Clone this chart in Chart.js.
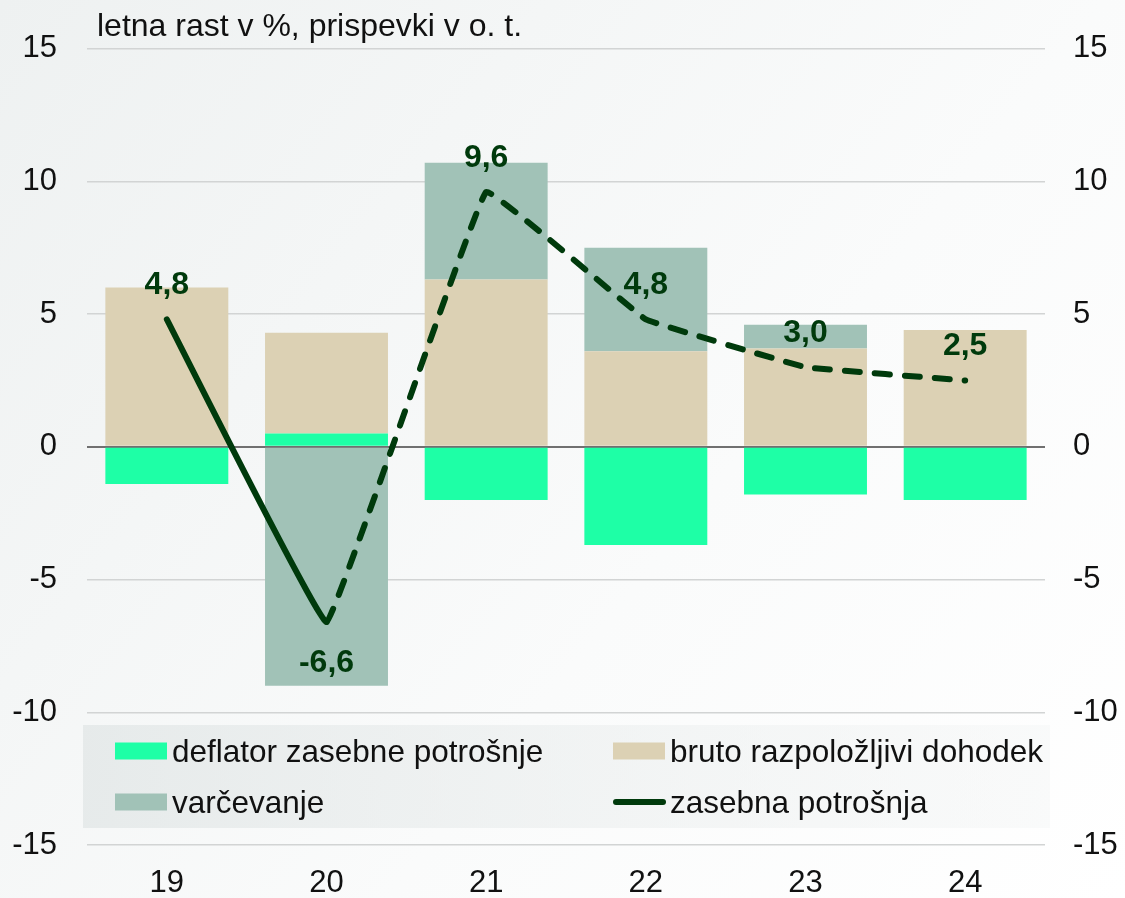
<!DOCTYPE html>
<html>
<head>
<meta charset="utf-8">
<script src="https://cdn.jsdelivr.net/npm/chart.js@4.4.1/dist/chart.umd.min.js"></script>
<style>
  html, body { margin: 0; padding: 0; background: #fff; }
  #wrap { width: 1125px; height: 898px; }
</style>
</head>
<body>
<div id="wrap"><canvas id="chart"></canvas></div>
<script>
var years = ["19", "20", "21", "22", "23", "24"];
var deflator = [-1.4, 0.5, -2.0, -3.7, -1.8, -2.0];
var dohodek = [6.0, 3.8, 6.3, 3.6, 3.7, 4.4];
var varcevanje = [null, -9.0, 4.4, 3.9, 0.9, null];
var potrosnja = [4.8, -6.6, 9.6, 4.8, 3.0, 2.5];
var yTicks = [-15, -10, -5, 0, 5, 10, 15];
var titleText = "letna rast v %, prispevki v o. t.";

var dark = "#003a0c";
var font = "'Liberation Sans', Arial, sans-serif";

// soft grey-to-white background
var backgroundPlugin = {
  id: "bg",
  beforeDraw: function (chart) {
    var ctx = chart.ctx;
    var g = ctx.createLinearGradient(0, 0, chart.width, chart.height);
    g.addColorStop(0, "#eef1f1");
    g.addColorStop(0.6, "#fafbfb");
    g.addColorStop(1, "#ffffff");
    ctx.save();
    ctx.fillStyle = g;
    ctx.fillRect(0, 0, chart.width, chart.height);
    ctx.restore();
  }
};

var titlePlugin = {
  id: "unitTitle",
  afterDraw: function (chart) {
    var ctx = chart.ctx;
    ctx.save();
    ctx.font = "32px " + font;
    ctx.fillStyle = "#111";
    ctx.textBaseline = "alphabetic";
    ctx.fillText(titleText, 97, 36);
    ctx.restore();
  }
};

// value labels on the line
var labelPlugin = {
  id: "lineLabels",
  afterDatasetsDraw: function (chart) {
    var ctx = chart.ctx;
    var meta = chart.getDatasetMeta(3);
    ctx.save();
    ctx.font = "bold 32px " + font;
    ctx.fillStyle = dark;
    ctx.textAlign = "center";
    ctx.textBaseline = "middle";
    meta.data.forEach(function (pt, i) {
      var v = potrosnja[i];
      var y = v < 0 ? pt.y + 41 : pt.y - 34;
      ctx.fillText(v.toFixed(1).replace(".", ","), pt.x, y);
    });
    ctx.restore();
  }
};

// legend drawn in a grey box inside the plot
var legendPlugin = {
  id: "boxLegend",
  afterDraw: function (chart) {
    var ctx = chart.ctx;
    var ds = chart.data.datasets;
    ctx.save();
    var g = ctx.createLinearGradient(83, 0, 1050, 0);
    g.addColorStop(0, "rgba(225,230,230,0.75)");
    g.addColorStop(1, "rgba(242,244,244,0.4)");
    ctx.fillStyle = g;
    ctx.fillRect(83, 725, 967, 103);

    var items = [
      { ds: ds[0], x: 115, y: 751 },
      { ds: ds[1], x: 613, y: 751 },
      { ds: ds[2], x: 115, y: 802 },
      { ds: ds[3], x: 613, y: 802 }
    ];
    ctx.font = "31.5px " + font;
    ctx.textBaseline = "middle";
    items.forEach(function (it) {
      if (it.ds.type === "line") {
        ctx.strokeStyle = it.ds.borderColor;
        ctx.lineWidth = 6;
        ctx.lineCap = "round";
        ctx.beginPath();
        ctx.moveTo(it.x + 3, it.y);
        ctx.lineTo(it.x + 50, it.y);
        ctx.stroke();
      } else {
        ctx.fillStyle = it.ds.backgroundColor;
        ctx.fillRect(it.x, it.y - 8.5, 52, 17);
      }
      ctx.fillStyle = "#111";
      ctx.fillText(it.ds.label, it.x + 57, it.y + 2);
    });
    ctx.restore();
  }
};

var ctx = document.getElementById("chart").getContext("2d");

var chart = new Chart(ctx, {
  type: "bar",
  data: {
    labels: years,
    datasets: [
      {
        label: "deflator zasebne potrošnje",
        data: deflator,
        backgroundColor: "#1effa6",
        order: 1
      },
      {
        label: "bruto razpoložljivi dohodek",
        data: dohodek,
        backgroundColor: "#dcd1b4",
        order: 1
      },
      {
        label: "varčevanje",
        data: varcevanje,
        backgroundColor: "#a1c2b7",
        order: 1
      },
      {
        type: "line",
        label: "zasebna potrošnja",
        data: potrosnja,
        yAxisID: "y2",
        borderColor: dark,
        borderWidth: 6,
        borderCapStyle: "round",
        borderJoinStyle: "round",
        pointRadius: 0,
        tension: 0.05,
        order: 0,
        segment: {
          borderDash: function (c) { return c.p0DataIndex >= 1 ? [15, 15] : undefined; }
        }
      }
    ]
  },
  options: {
    responsive: true,
    maintainAspectRatio: false,
    animation: false,
    layout: { padding: { top: 45, left: 0, right: 0, bottom: 0 } },
    datasets: {
      bar: { barPercentage: 0.77, categoryPercentage: 1.0 }
    },
    plugins: {
      legend: { display: false },
      tooltip: { enabled: false }
    },
    scales: {
      x: {
        stacked: true,
        grid: { display: false },
        border: { display: false },
        ticks: { color: "#111", font: { family: font, size: 31 }, padding: 12 },
        afterFit: function (s) { s.height = 53; }
      },
      y: {
        stacked: true,
        position: "left",
        min: -15,
        max: 15,
        afterBuildTicks: function (s) { s.ticks = yTicks.map(function (v) { return { value: v }; }); },
        ticks: { color: "#111", font: { family: font, size: 31 }, padding: 30 },
        grid: {
          drawTicks: false,
          color: function (c) { return c.tick && c.tick.value === 0 ? "#707070" : "#d2d4d4"; },
          lineWidth: function (c) { return c.tick && c.tick.value === 0 ? 2 : 1.5; }
        },
        border: { display: false },
        afterFit: function (s) { s.width = 87; }
      },
      y2: {
        position: "right",
        min: -15,
        max: 15,
        afterBuildTicks: function (s) { s.ticks = yTicks.map(function (v) { return { value: v }; }); },
        ticks: { color: "#111", font: { family: font, size: 31 }, padding: 28 },
        grid: { display: false, drawTicks: false },
        border: { display: false },
        afterFit: function (s) { s.width = 80; }
      }
    }
  },
  plugins: [backgroundPlugin, labelPlugin, legendPlugin, titlePlugin]
});
</script>
</body>
</html>
